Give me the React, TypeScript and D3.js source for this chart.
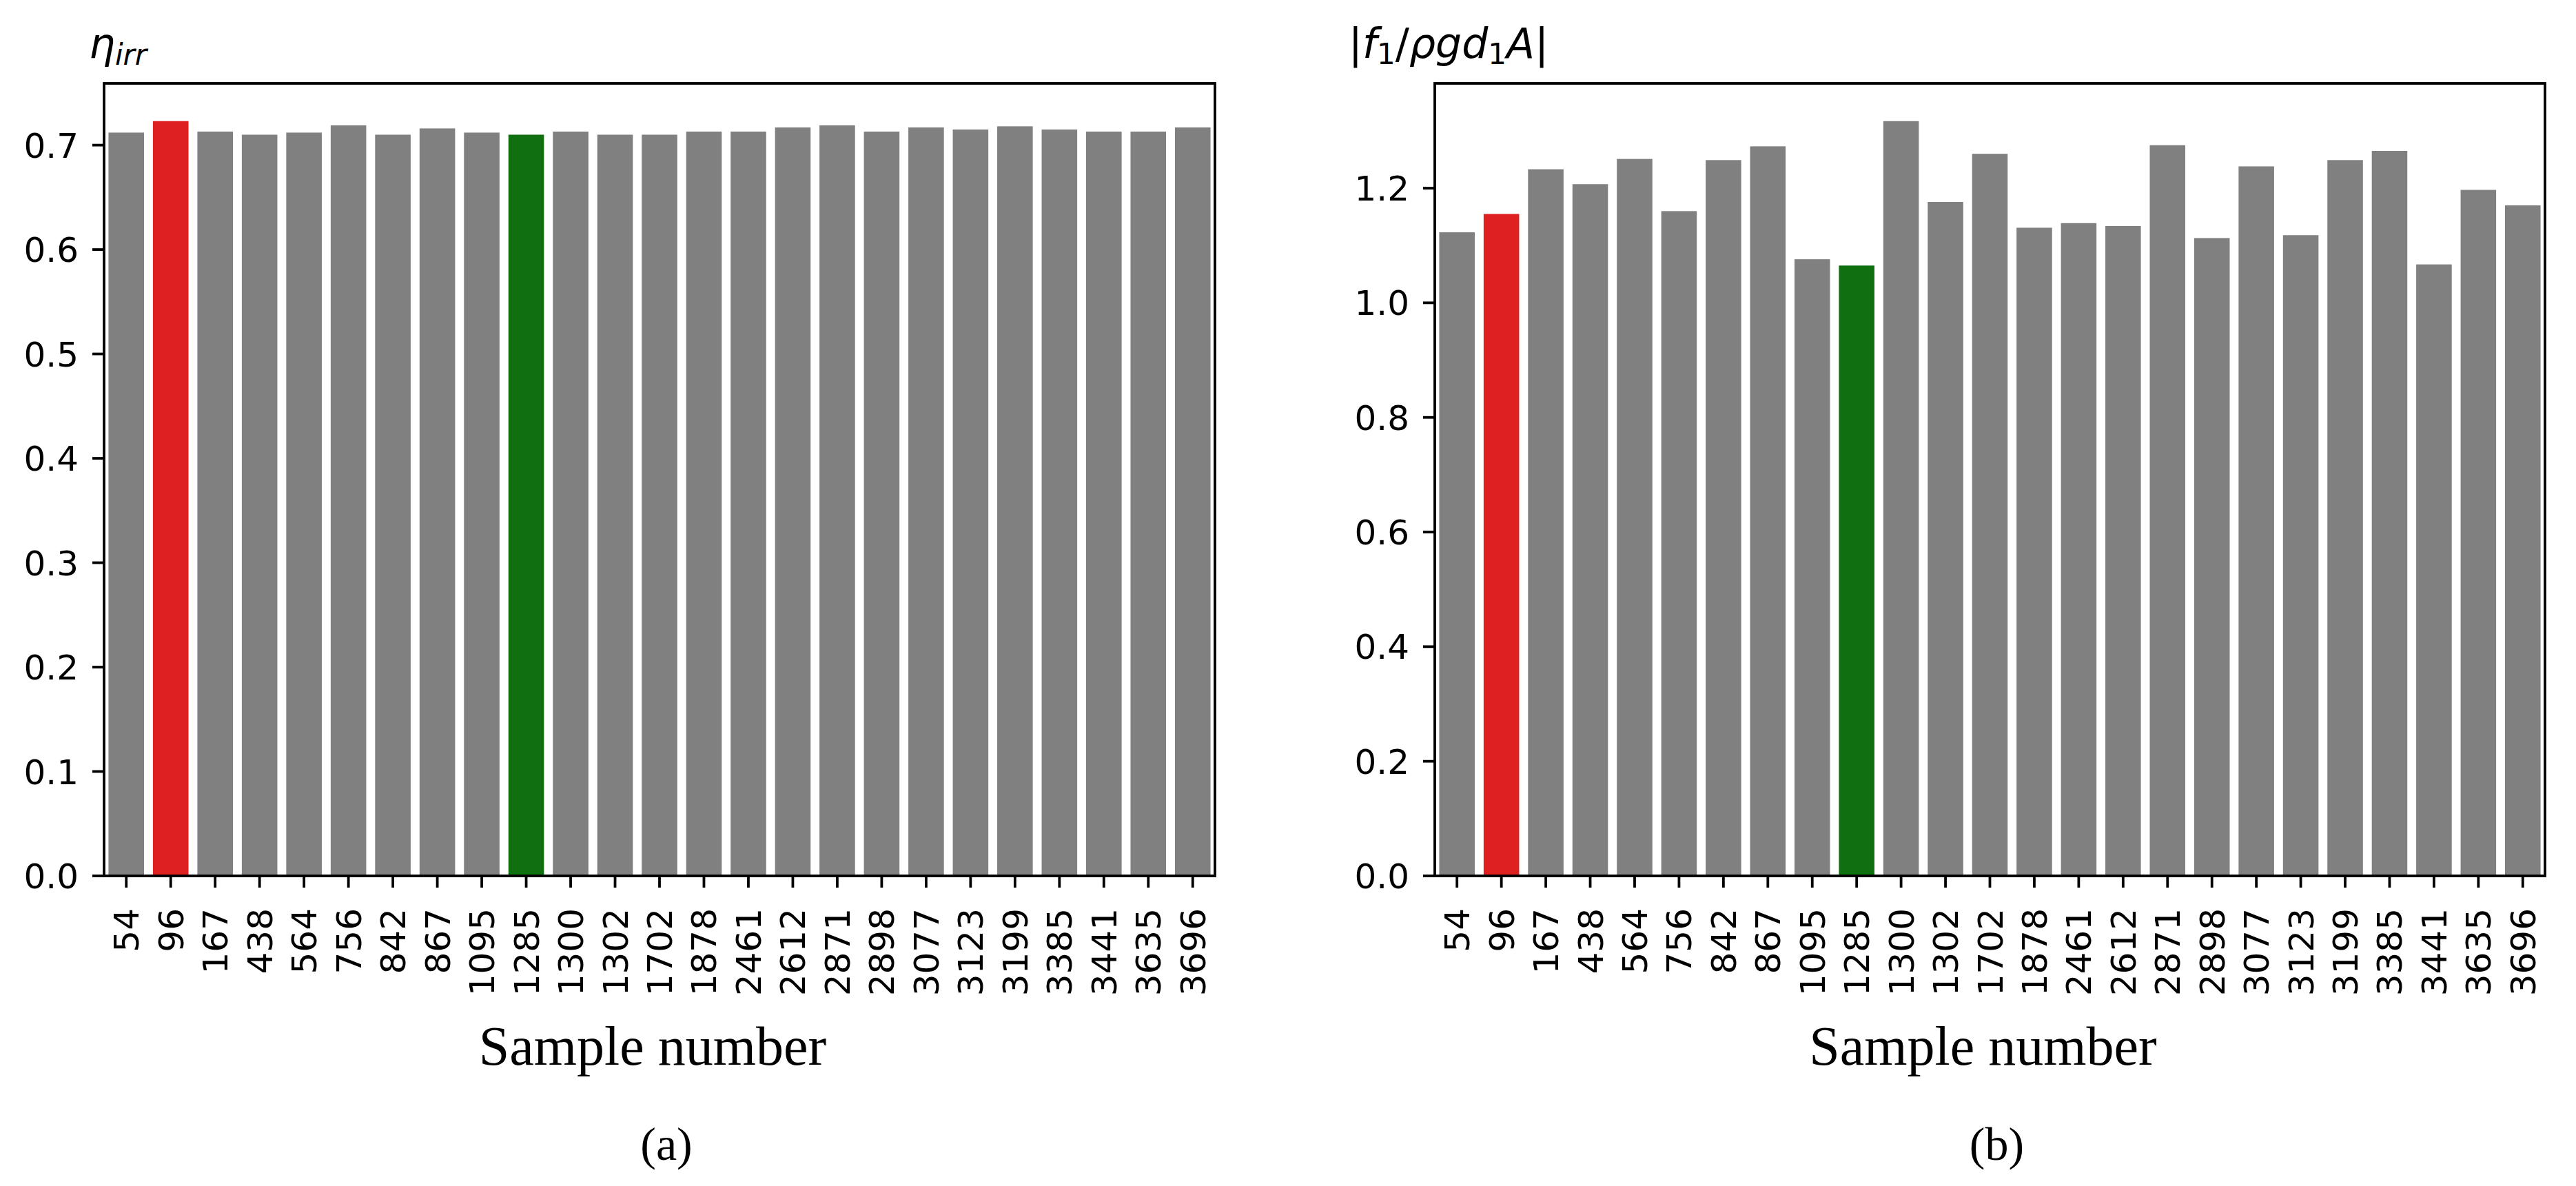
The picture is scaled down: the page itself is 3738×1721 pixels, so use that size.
import React from "react";
import * as d3 from "d3";

// ---- data ----
const categories = [
  "54", "96", "167", "438", "564", "756", "842", "867", "1095", "1285",
  "1300", "1302", "1702", "1878", "2461", "2612", "2871", "2898", "3077",
  "3123", "3199", "3385", "3441", "3635", "3696",
];
const etaValues = [
  0.712, 0.723, 0.713, 0.710, 0.712, 0.719, 0.710, 0.716, 0.712, 0.710,
  0.713, 0.710, 0.710, 0.713, 0.713, 0.717, 0.719, 0.713, 0.717,
  0.715, 0.718, 0.715, 0.713, 0.713, 0.717,
];
const forceValues = [
  1.123, 1.155, 1.233, 1.207, 1.251, 1.160, 1.249, 1.273, 1.076, 1.065,
  1.317, 1.176, 1.260, 1.131, 1.139, 1.134, 1.275, 1.113, 1.238,
  1.118, 1.249, 1.265, 1.067, 1.197, 1.170,
];
const etaTicks = [0, 0.1, 0.2, 0.3, 0.4, 0.5, 0.6, 0.7];
const forceTicks = [0, 0.2, 0.4, 0.6, 0.8, 1.0, 1.2];
const redSample = "96";
const greenSample = "1285";

const W = 3738;
const H = 1721;
const TOP = 121;
const BOTTOM = 1271;
const GRAY = "#808080";
const RED = "#df2020";
const GREEN = "#107010";
const TICK_FONT = "'DejaVu Sans', sans-serif";
const SERIF = "'Liberation Serif', 'Times New Roman', serif";

type PanelProps = {
  x0: number;
  x1: number;
  values: number[];
  ticks: number[];
  label: React.ReactNode;
  caption: string;
};

function Panel({ x0, x1, values, ticks, label, caption }: PanelProps) {
  const x = d3.scaleBand<string>().domain(categories).range([x0, x1]).paddingInner(0.2).paddingOuter(0.1);
  const ymax = (d3.max(values) as number) * 1.05;
  const y = d3.scaleLinear().domain([0, ymax]).range([BOTTOM, TOP]);
  const fmt = d3.format(".1f");
  const tickLen = 17;
  const sw = 3.8;
  const cx = (x0 + x1) / 2;
  return (
    <g>
      {categories.map((c, i) => (
        <rect
          key={c}
          x={x(c)}
          y={y(values[i])}
          width={x.bandwidth()}
          height={y(0) - y(values[i])}
          fill={c === redSample ? RED : c === greenSample ? GREEN : GRAY}
        />
      ))}
      {/* frame */}
      <rect x={x0} y={TOP} width={x1 - x0} height={BOTTOM - TOP} fill="none" stroke="#000" strokeWidth={sw} />
      {/* y ticks */}
      {ticks.map((t) => (
        <g key={t}>
          <line x1={x0 - tickLen} x2={x0} y1={y(t)} y2={y(t)} stroke="#000" strokeWidth={sw} />
          <text
            x={x0 - tickLen - 20}
            y={y(t)}
            dy="0.36em"
            textAnchor="end"
            fontFamily={TICK_FONT}
            fontSize={50}
            fill="#000"
          >
            {fmt(t)}
          </text>
        </g>
      ))}
      {/* x ticks */}
      {categories.map((c) => {
        const xc = (x(c) as number) + x.bandwidth() / 2;
        return (
          <g key={c}>
            <line x1={xc} x2={xc} y1={BOTTOM} y2={BOTTOM + tickLen} stroke="#000" strokeWidth={sw} />
            <text
              transform={`translate(${xc},${BOTTOM + 47}) rotate(-90)`}
              dy="0.36em"
              textAnchor="end"
              fontFamily={TICK_FONT}
              fontSize={50}
              fill="#000"
            >
              {c}
            </text>
          </g>
        );
      })}
      {/* y label at top */}
      <text x={x0 + 20} y={84} textAnchor="middle" fontFamily={TICK_FONT} fontSize={60} fill="#000">
        {label}
      </text>
      {/* x label */}
      <text x={cx - 10} y={1545} textAnchor="middle" fontFamily={SERIF} fontSize={80} fill="#000">
        Sample number
      </text>
      {/* caption */}
      <text x={cx + 10} y={1683} textAnchor="middle" fontFamily={SERIF} fontSize={68} fill="#000">
        {caption}
      </text>
    </g>
  );
}

export default function App() {
  const etaLabel = (
    <>
      <tspan fontStyle="italic">η</tspan>
      <tspan fontStyle="italic" fontSize={42} dy={10}>irr</tspan>
    </>
  );
  const forceLabel = (
    <>
      <tspan>|</tspan>
      <tspan fontStyle="italic">f</tspan>
      <tspan fontSize={42} dy={9}>1</tspan>
      <tspan dy={-9}>/</tspan>
      <tspan fontStyle="italic">ρgd</tspan>
      <tspan fontSize={42} dy={9}>1</tspan>
      <tspan fontStyle="italic" dy={-9}>A</tspan>
      <tspan>|</tspan>
    </>
  );
  return (
    <div style={{ position: "absolute", left: 0, top: 0 }}>
      <svg width={W} height={H} viewBox={`0 0 ${W} ${H}`} style={{ display: "block", background: "#fff" }}>
        <rect x={0} y={0} width={W} height={H} fill="#fff" />
        <Panel x0={151} x1={1763} values={etaValues} ticks={etaTicks} label={etaLabel} caption="(a)" />
        <Panel x0={2082} x1={3693} values={forceValues} ticks={forceTicks} label={forceLabel} caption="(b)" />
      </svg>
    </div>
  );
}
